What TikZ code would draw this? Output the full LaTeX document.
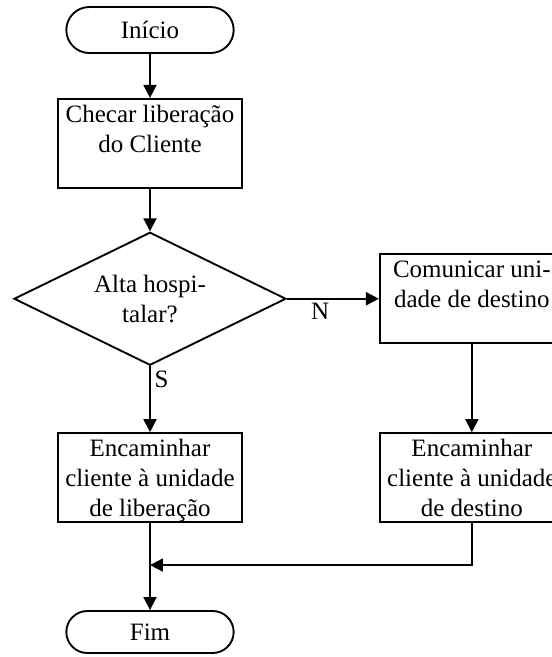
\documentclass[tikz,border=0pt]{standalone}
\usepackage{fontspec}
\setmainfont{Liberation Serif}
\usetikzlibrary{positioning,shapes,arrows.meta}

\begin{document}
\begin{tikzpicture}[
    node distance=17.6pt,
    >={Triangle[length=5.2pt, width=5.2pt]},
    every path/.style={line width=0.75pt},
    terminal/.style={rounded rectangle, draw, minimum width=73.6pt, minimum height=18.4pt, font=\fontsize{10}{12}\selectfont},
    caixa/.style={rectangle, draw, minimum width=73.6pt, minimum height=35.6pt, inner sep=1pt, text height=32.3pt, text depth=1.3pt, align=center, font=\fontsize{10}{12}\selectfont},
    decisao/.style={diamond, draw, aspect=2, minimum width=108.8pt, minimum height=53.2pt, inner sep=0pt, align=center, font=\fontsize{10}{12}\selectfont},
    rotulo/.style={font=\fontsize{10}{12}\selectfont, inner sep=1.5pt}
  ]
    \useasboundingbox (-60pt,12pt) rectangle (160.4pt,-250.8pt);

    \node (inicio) [terminal] { Início };
    \node (checar) [below=of inicio, caixa] { Checar liberação\\do Cliente\\\mbox{} };
    \node (alta) [below=17pt of checar, decisao] { Alta hospi-\\talar? };
    \node (comunicar) [right=36.8pt of alta, caixa] { Comunicar uni-\\dade de destino\\\mbox{} };
    \node (liberacao) [below=26.4pt of alta, caixa] { Encaminhar\\cliente à unidade\\de liberação };
    \node (destino) [caixa] at (liberacao -| comunicar) { Encaminhar\\cliente à unidade\\de destino };
    \coordinate [below=16.8pt of liberacao] (juncao);
    \node (fim) [below=34.8pt of liberacao, terminal, minimum height=16.8pt] { Fim };

    \draw[->] (inicio) -- (checar);
    \draw[->] (checar) -- (alta);
    \draw[->] (alta.east) -- (comunicar.west) node [below, pos=0.36, rotulo] { N };
    \draw[->] (alta.south) -- (liberacao.north) node [pos=0, anchor=north west, rotulo] { S };
    \draw[->] (comunicar) -- (destino);
    \draw[->] (liberacao) -- (fim);
    \draw[->] (destino.south) |- (juncao);
  \end{tikzpicture}
\end{document}
